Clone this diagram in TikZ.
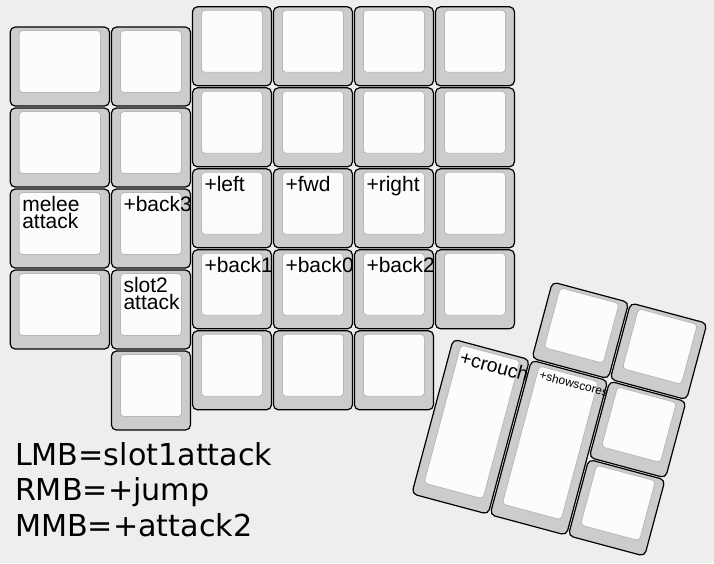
\documentclass[tikz,border=0pt]{standalone}
\usepackage{fontspec}
\newfontfamily\keyfam{Liberation Sans}
\newfontfamily\notefam{DejaVu Sans}
\definecolor{bgcol}{HTML}{EEEEEE}
\definecolor{capcol}{HTML}{CCCCCC}
\definecolor{topcol}{HTML}{FCFCFC}
\definecolor{topedge}{HTML}{B8B8B8}
\tikzset{
  outerkey/.style={draw=black, line width=1.2pt, fill=capcol, rounded corners=5pt,
    inner sep=0pt, outer sep=0pt, rectangle},
  innerkey/.style={draw=topedge, line width=0.8pt, fill=topcol, rounded corners=3.5pt,
    inner sep=0pt, outer sep=0pt, rectangle},
  keylabel/.style={anchor=base west, inner sep=0pt, outer sep=0pt,
    font=\keyfam\fontsize{21}{21}\selectfont},
  midlabel/.style={anchor=base west, inner sep=0pt, outer sep=0pt,
    font=\keyfam\fontsize{19.5}{19.5}\selectfont},
  smalllabel/.style={anchor=base west, inner sep=0pt, outer sep=0pt,
    font=\keyfam\fontsize{12}{12}\selectfont},
  notelabel/.style={anchor=base west, inner sep=0pt, outer sep=0pt,
    font=\notefam\fontsize{30.2}{30.2}\selectfont},
}
% key: name, x, y, w, h
\newcommand{\kbk}[5]{%
  \node[outerkey, minimum width={#4-2}, minimum height={#5-2}] (#1) at ({#2+#4/2},{#3+#5/2}) {};
  \node[innerkey, minimum width={#4-20}, minimum height={#5-19}] (#1-top) at ({#2+#4/2},{#3+#5/2-5}) {};
}
% label line: name, x, y (key origin), line offset, text
\newcommand{\kbl}[5]{%
  \node[keylabel] (#1) at ({#2+13.1},{#3+23.5+#4}) {#5};
}
\begin{document}
\begin{tikzpicture}[x=1pt,y=-1pt]
\fill[bgcol] (0,0) rectangle (714,563);
\useasboundingbox (0,0) rectangle (714,563);
% column 0 (1.25u wide)
\kbk{k00}{9.2}{26.05}{101.25}{81}
\kbk{k01}{9.2}{107.05}{101.25}{81}
\kbk{k02}{9.2}{188.05}{101.25}{81}
\kbl{l02a}{9.2}{188.05}{0}{melee}
\kbl{l02b}{9.2}{188.05}{16.7}{attack}
\kbk{k03}{9.2}{269.05}{101.25}{81}
% column 1
\kbk{k10}{110.45}{26.05}{81}{81}
\kbk{k11}{110.45}{107.05}{81}{81}
\kbk{k12}{110.45}{188.05}{81}{81}
\kbl{l12}{110.45}{188.05}{0}{+back3}
\kbk{k13}{110.45}{269.05}{81}{81}
\kbl{l13a}{110.45}{269.05}{0}{slot2}
\kbl{l13b}{110.45}{269.05}{16.7}{attack}
\kbk{k14}{110.45}{350.05}{81}{81}
% column 2
\kbk{k20}{191.45}{5.8}{81}{81}
\kbk{k21}{191.45}{86.8}{81}{81}
\kbk{k22}{191.45}{167.8}{81}{81}
\kbl{l22}{191.45}{167.8}{0}{+left}
\kbk{k23}{191.45}{248.8}{81}{81}
\kbl{l23}{191.45}{248.8}{0}{+back1}
\kbk{k24}{191.45}{329.8}{81}{81}
% column 3
\kbk{k30}{272.45}{5.8}{81}{81}
\kbk{k31}{272.45}{86.8}{81}{81}
\kbk{k32}{272.45}{167.8}{81}{81}
\kbl{l32}{272.45}{167.8}{0}{+fwd}
\kbk{k33}{272.45}{248.8}{81}{81}
\kbl{l33}{272.45}{248.8}{0}{+back0}
\kbk{k34}{272.45}{329.8}{81}{81}
% column 4
\kbk{k40}{353.45}{5.8}{81}{81}
\kbk{k41}{353.45}{86.8}{81}{81}
\kbk{k42}{353.45}{167.8}{81}{81}
\kbl{l42}{353.45}{167.8}{0}{+right}
\kbk{k43}{353.45}{248.8}{81}{81}
\kbl{l43}{353.45}{248.8}{0}{+back2}
\kbk{k44}{353.45}{329.8}{81}{81}
% column 5
\kbk{k50}{434.45}{5.8}{81}{81}
\kbk{k51}{434.45}{86.8}{81}{81}
\kbk{k52}{434.45}{167.8}{81}{81}
\kbk{k53}{434.45}{248.8}{81}{81}
% thumb cluster
\begin{scope}[shift={(452.5,338)}, rotate=-15, transform shape]
  \kbk{t1}{81}{-81}{81}{81}
  \kbk{t2}{162}{-81}{81}{81}
  \kbk{t3}{0}{0}{81}{162}
  \node[midlabel] (lt3) at (12.8,23) {+crouch};
  \kbk{t4}{81}{0}{81}{162}
  \node[smalllabel] (lt4) at (94,17) {+showscores};
  \kbk{t5}{162}{0}{81}{81}
  \kbk{t6}{162}{81}{81}{81}
\end{scope}
% notes
\node[notelabel] (n1) at (15,465) {LMB=slot1attack};
\node[notelabel] (n2) at (15,500.7) {RMB=+jump};
\node[notelabel] (n3) at (15,536.4) {MMB=+attack2};
\end{tikzpicture}
\end{document}
